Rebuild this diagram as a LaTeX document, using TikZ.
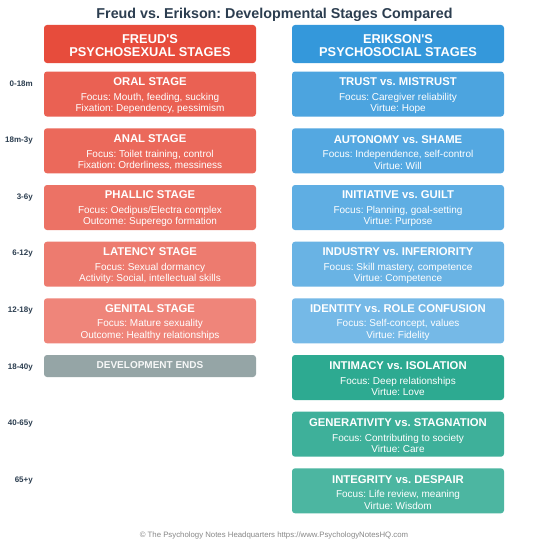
\documentclass[tikz,border=0pt]{standalone}
\usepackage{fontspec}
\setmainfont{Liberation Sans}[Ligatures=TeXOff]
\definecolor{fred}{HTML}{E74C3C}
\definecolor{eblue}{HTML}{3498DB}
\definecolor{egreen}{HTML}{16A085}
\definecolor{egray}{HTML}{95A5A6}
\definecolor{navy}{HTML}{2C3E50}
\definecolor{foot}{HTML}{888888}
\newcommand{\stagebox}[7]{%
  \node[stagenode, fill=#3!#4] (#1) at (#2) {};
  \node[stagetext] (#1t) at ([yshift=-1.5pt]#1.center) {{\fontsize{11.3}{13}\selectfont\bfseries #5}\\[3.5pt]{\fontsize{10}{11.3}\selectfont #6}\\{\fontsize{10}{11.3}\selectfont #7}};}
\begin{document}
\frenchspacing
\begin{tikzpicture}[x=1pt,y=-1pt,
  stagenode/.style={rounded corners=3pt, minimum width=212pt, minimum height=45pt, inner sep=0pt},
  stagetext/.style={inner sep=0pt, text=white, align=center, font=\fontsize{10}{11.3}\selectfont},
  headnode/.style={rounded corners=3pt, minimum width=212pt, minimum height=38pt, inner sep=0pt},
  headtext/.style={inner sep=0pt, text=white, align=center, font=\fontsize{12.8}{13}\selectfont\bfseries},
  agelabel/.style={anchor=east, inner sep=0pt, text=navy, font=\fontsize{8}{9}\selectfont\bfseries}]
\useasboundingbox (0,0) rectangle (556,551);
\fill[white] (0,0) rectangle (556,551);
\node[text=navy, font=\fontsize{14.3}{17}\selectfont\bfseries, inner sep=0pt, anchor=base] (title) at (274.5,19) {Freud vs. Erikson: Developmental Stages Compared};
\node[headnode, fill=fred] (fh) at (150,44) {};
\node[headtext] (fht) at ([yshift=-1.5pt]fh.center) {FREUD'S\\PSYCHOSEXUAL STAGES};
\node[headnode, fill=eblue] (eh) at (398,44) {};
\node[headtext] (eht) at ([yshift=-1.5pt]eh.center) {ERIKSON'S\\PSYCHOSOCIAL STAGES};
% Freud
\stagebox{f1}{150,94}{fred}{88}{ORAL STAGE}{Focus: Mouth, feeding, sucking}{Fixation: Dependency, pessimism}
\stagebox{f2}{150,150.8}{fred}{84}{ANAL STAGE}{Focus: Toilet training, control}{Fixation: Orderliness, messiness}
\stagebox{f3}{150,207.5}{fred}{79}{PHALLIC STAGE}{Focus: Oedipus/Electra complex}{Outcome: Superego formation}
\stagebox{f4}{150,264.2}{fred}{74}{LATENCY STAGE}{Focus: Sexual dormancy}{Activity: Social, intellectual skills}
\stagebox{f5}{150,320.8}{fred}{68}{GENITAL STAGE}{Focus: Mature sexuality}{Outcome: Healthy relationships}
\node[rounded corners=3pt, minimum width=212pt, minimum height=22pt, inner sep=0pt, fill=egray, text=white!92!egray, font=\fontsize{10}{11}\selectfont\bfseries] (f6) at (150,366) {\raisebox{1.5pt}{DEVELOPMENT ENDS}};
% Erikson
\stagebox{e1}{398,94}{eblue}{88}{TRUST vs. MISTRUST}{Focus: Caregiver reliability}{Virtue: Hope}
\stagebox{e2}{398,150.8}{eblue}{84}{AUTONOMY vs. SHAME}{Focus: Independence, self-control}{Virtue: Will}
\stagebox{e3}{398,207.5}{eblue}{79}{INITIATIVE vs. GUILT}{Focus: Planning, goal-setting}{Virtue: Purpose}
\stagebox{e4}{398,264.2}{eblue}{74}{INDUSTRY vs. INFERIORITY}{Focus: Skill mastery, competence}{Virtue: Competence}
\stagebox{e5}{398,320.8}{eblue}{68}{IDENTITY vs. ROLE CONFUSION}{Focus: Self-concept, values}{Virtue: Fidelity}
\stagebox{e6}{398,377.5}{egreen}{90}{INTIMACY vs. ISOLATION}{Focus: Deep relationships}{Virtue: Love}
\stagebox{e7}{398,434.2}{egreen}{83}{GENERATIVITY vs. STAGNATION}{Focus: Contributing to society}{Virtue: Care}
\stagebox{e8}{398,490.8}{egreen}{77}{INTEGRITY vs. DESPAIR}{Focus: Life review, meaning}{Virtue: Wisdom}
% ages
\node[agelabel] (a1) at (33,84) {0-18m};
\node[agelabel] (a2) at (33,140.7) {18m-3y};
\node[agelabel] (a3) at (33,197.3) {3-6y};
\node[agelabel] (a4) at (33,254) {6-12y};
\node[agelabel] (a5) at (33,310.7) {12-18y};
\node[agelabel] (a6) at (33,367.3) {18-40y};
\node[agelabel] (a7) at (33,424) {40-65y};
\node[agelabel] (a8) at (33,480.7) {65+y};
\node[text=foot, font=\fontsize{7.8}{9}\selectfont, inner sep=0pt] (footer) at (274,535) {© The Psychology Notes Headquarters https://www.PsychologyNotesHQ.com};
\end{tikzpicture}
\end{document}
